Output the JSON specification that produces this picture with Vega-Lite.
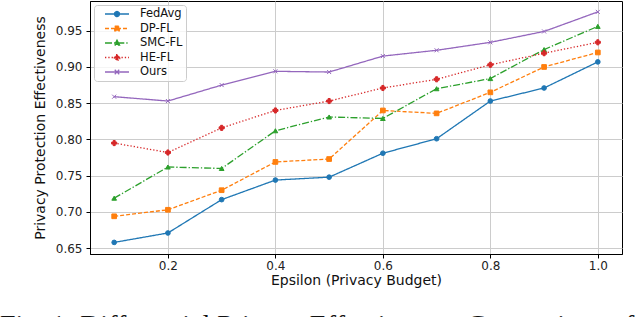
{
  "$schema": "https://vega.github.io/schema/vega-lite/v6.json",
  "width": 532,
  "height": 253,
  "autosize": {"type": "none"},
  "padding": {"left": 90, "top": 1, "right": 18, "bottom": 63},
  "background": "white",
  "config": {
    "font": "DejaVu Sans",
    "view": {"stroke": "black", "strokeWidth": 1}
  },
  "title": {
    "text": "Fig. 1: Differential Privacy Effectiveness Comparison of",
    "orient": "bottom",
    "anchor": "start",
    "frame": "group",
    "dx": -90,
    "offset": 25,
    "font": "Liberation Serif",
    "fontSize": 28,
    "fontWeight": "normal",
    "color": "#111"
  },
  "data": {
    "values": [
      {"series": "FedAvg", "epsilon": 0.1, "value": 0.658},
      {"series": "FedAvg", "epsilon": 0.2, "value": 0.671},
      {"series": "FedAvg", "epsilon": 0.3, "value": 0.717},
      {"series": "FedAvg", "epsilon": 0.4, "value": 0.744},
      {"series": "FedAvg", "epsilon": 0.5, "value": 0.748},
      {"series": "FedAvg", "epsilon": 0.6, "value": 0.781},
      {"series": "FedAvg", "epsilon": 0.7, "value": 0.801},
      {"series": "FedAvg", "epsilon": 0.8, "value": 0.853},
      {"series": "FedAvg", "epsilon": 0.9, "value": 0.871},
      {"series": "FedAvg", "epsilon": 1.0, "value": 0.907},
      {"series": "DP-FL", "epsilon": 0.1, "value": 0.694},
      {"series": "DP-FL", "epsilon": 0.2, "value": 0.703},
      {"series": "DP-FL", "epsilon": 0.3, "value": 0.730},
      {"series": "DP-FL", "epsilon": 0.4, "value": 0.769},
      {"series": "DP-FL", "epsilon": 0.5, "value": 0.773},
      {"series": "DP-FL", "epsilon": 0.6, "value": 0.840},
      {"series": "DP-FL", "epsilon": 0.7, "value": 0.836},
      {"series": "DP-FL", "epsilon": 0.8, "value": 0.865},
      {"series": "DP-FL", "epsilon": 0.9, "value": 0.900},
      {"series": "DP-FL", "epsilon": 1.0, "value": 0.920},
      {"series": "SMC-FL", "epsilon": 0.1, "value": 0.719},
      {"series": "SMC-FL", "epsilon": 0.2, "value": 0.762},
      {"series": "SMC-FL", "epsilon": 0.3, "value": 0.760},
      {"series": "SMC-FL", "epsilon": 0.4, "value": 0.812},
      {"series": "SMC-FL", "epsilon": 0.5, "value": 0.831},
      {"series": "SMC-FL", "epsilon": 0.6, "value": 0.829},
      {"series": "SMC-FL", "epsilon": 0.7, "value": 0.870},
      {"series": "SMC-FL", "epsilon": 0.8, "value": 0.884},
      {"series": "SMC-FL", "epsilon": 0.9, "value": 0.924},
      {"series": "SMC-FL", "epsilon": 1.0, "value": 0.956},
      {"series": "HE-FL", "epsilon": 0.1, "value": 0.795},
      {"series": "HE-FL", "epsilon": 0.2, "value": 0.782},
      {"series": "HE-FL", "epsilon": 0.3, "value": 0.816},
      {"series": "HE-FL", "epsilon": 0.4, "value": 0.840},
      {"series": "HE-FL", "epsilon": 0.5, "value": 0.853},
      {"series": "HE-FL", "epsilon": 0.6, "value": 0.871},
      {"series": "HE-FL", "epsilon": 0.7, "value": 0.883},
      {"series": "HE-FL", "epsilon": 0.8, "value": 0.903},
      {"series": "HE-FL", "epsilon": 0.9, "value": 0.919},
      {"series": "HE-FL", "epsilon": 1.0, "value": 0.934},
      {"series": "Ours", "epsilon": 0.1, "value": 0.859},
      {"series": "Ours", "epsilon": 0.2, "value": 0.853},
      {"series": "Ours", "epsilon": 0.3, "value": 0.875},
      {"series": "Ours", "epsilon": 0.4, "value": 0.894},
      {"series": "Ours", "epsilon": 0.5, "value": 0.893},
      {"series": "Ours", "epsilon": 0.6, "value": 0.915},
      {"series": "Ours", "epsilon": 0.7, "value": 0.923},
      {"series": "Ours", "epsilon": 0.8, "value": 0.934},
      {"series": "Ours", "epsilon": 0.9, "value": 0.949},
      {"series": "Ours", "epsilon": 1.0, "value": 0.976}
    ]
  },
  "encoding": {
    "x": {
      "field": "epsilon",
      "type": "quantitative",
      "scale": {"domain": [0.055, 1.045], "nice": false, "zero": false},
      "axis": {
        "values": [0.2, 0.4, 0.6, 0.8, 1.0],
        "format": ".1f",
        "title": "Epsilon (Privacy Budget)",
        "grid": true,
        "gridColor": "#cccccc",
        "gridWidth": 1,
        "domainColor": "black",
        "tickColor": "black",
        "tickSize": 4,
        "labelFontSize": 12,
        "labelColor": "#222",
        "labelPadding": 2,
        "titleFontSize": 14,
        "titleFontWeight": "normal",
        "titleColor": "#111",
        "titlePadding": 2
      }
    },
    "y": {
      "field": "value",
      "type": "quantitative",
      "scale": {"domain": [0.642, 0.991], "nice": false, "zero": false},
      "axis": {
        "values": [0.65, 0.7, 0.75, 0.8, 0.85, 0.9, 0.95],
        "format": ".2f",
        "title": "Privacy Protection Effectiveness",
        "grid": true,
        "gridColor": "#cccccc",
        "gridWidth": 1,
        "domainColor": "black",
        "tickColor": "black",
        "tickSize": 4,
        "labelFontSize": 12,
        "labelColor": "#222",
        "labelPadding": 4,
        "titleFontSize": 14,
        "titleFontWeight": "normal",
        "titleColor": "#111",
        "titlePadding": 8
      }
    }
  },
  "layer": [
    {
      "mark": {"type": "line", "strokeWidth": 1.3},
      "encoding": {
        "color": {
          "field": "series",
          "type": "nominal",
          "scale": {
            "domain": ["FedAvg", "DP-FL", "SMC-FL", "HE-FL", "Ours"],
            "range": ["#1f77b4", "#ff7f0e", "#2ca02c", "#d62728", "#9467bd"]
          },
          "legend": {
            "title": null,
            "orient": "top-left",
            "offset": 4,
            "padding": 3,
            "fillColor": "rgba(255,255,255,0.8)",
            "strokeColor": "#cccccc",
            "cornerRadius": 3,
            "symbolSize": 100,
            "symbolStrokeWidth": 1.3,
            "symbolOffset": 14,
            "labelOffset": 17,
            "labelFontSize": 11.5,
            "labelColor": "#111",
            "rowPadding": 2.5,
            "encode": {
              "symbols": {
                "update": {
                  "shape": {"signal": "datum.value === 'FedAvg' ? 'M-2.4,0H2.4M-0.5,0A0.5,0.5 0 1,0 0.5,0A0.5,0.5 0 1,0 -0.5,0Z' : datum.value === 'DP-FL' ? 'M-2.4,0H2.4M-0.45,-0.45H0.45V0.45H-0.45Z' : datum.value === 'SMC-FL' ? 'M-2.4,0H2.4M0,-0.55L0.5,0.4H-0.5Z' : datum.value === 'HE-FL' ? 'M-2.4,0H2.4M-0.2,-0.55H0.2V-0.2H0.55V0.2H0.2V0.55H-0.2V0.2H-0.55V-0.2H-0.2Z' : 'M-2.4,0H2.4M-0.45,-0.45L0.45,0.45M-0.45,0.45L0.45,-0.45'"},
                  "fill": {"signal": "datum.value === 'FedAvg' ? '#1f77b4' : datum.value === 'DP-FL' ? '#ff7f0e' : datum.value === 'SMC-FL' ? '#2ca02c' : datum.value === 'HE-FL' ? '#d62728' : '#9467bd'"},
                  "stroke": {"signal": "datum.value === 'FedAvg' ? '#1f77b4' : datum.value === 'DP-FL' ? '#ff7f0e' : datum.value === 'SMC-FL' ? '#2ca02c' : datum.value === 'HE-FL' ? '#d62728' : '#9467bd'"},
                  "strokeDash": {"signal": "datum.value === 'DP-FL' ? [4, 2] : datum.value === 'SMC-FL' ? [7, 2, 1.3, 2] : datum.value === 'HE-FL' ? [1.3, 2] : [1, 0]"},
                  "opacity": {"value": 1}
                }
              }
            }
          }
        },
        "strokeDash": {
          "field": "series",
          "type": "nominal",
          "scale": {
            "domain": ["FedAvg", "DP-FL", "SMC-FL", "HE-FL", "Ours"],
            "range": [[1, 0], [4, 2], [7, 2, 1.3, 2], [1.3, 2], [1, 0]]
          },
          "legend": null
        }
      }
    },
    {
      "transform": [{"filter": "datum.series === 'FedAvg'"}],
      "mark": {"type": "point", "shape": "circle", "filled": true, "opacity": 1, "size": 22, "fill": "#1f77b4", "stroke": "#1f77b4", "strokeWidth": 1}
    },
    {
      "transform": [{"filter": "datum.series === 'DP-FL'"}],
      "mark": {"type": "point", "shape": "square", "filled": true, "opacity": 1, "size": 22, "fill": "#ff7f0e", "stroke": "#ff7f0e", "strokeWidth": 1}
    },
    {
      "transform": [{"filter": "datum.series === 'SMC-FL'"}],
      "mark": {"type": "point", "shape": "triangle-up", "filled": true, "opacity": 1, "size": 22, "fill": "#2ca02c", "stroke": "#2ca02c", "strokeWidth": 1}
    },
    {
      "transform": [{"filter": "datum.series === 'HE-FL'"}],
      "mark": {"type": "point", "shape": "cross", "filled": true, "opacity": 1, "size": 26, "fill": "#d62728", "stroke": "#d62728", "strokeWidth": 1}
    },
    {
      "transform": [{"filter": "datum.series === 'Ours'"}],
      "mark": {"type": "point", "shape": "M-1,-1L1,1M-1,1L1,-1", "filled": false, "opacity": 1, "size": 16, "fill": null, "stroke": "#9467bd", "strokeWidth": 1}
    }
  ]
}
